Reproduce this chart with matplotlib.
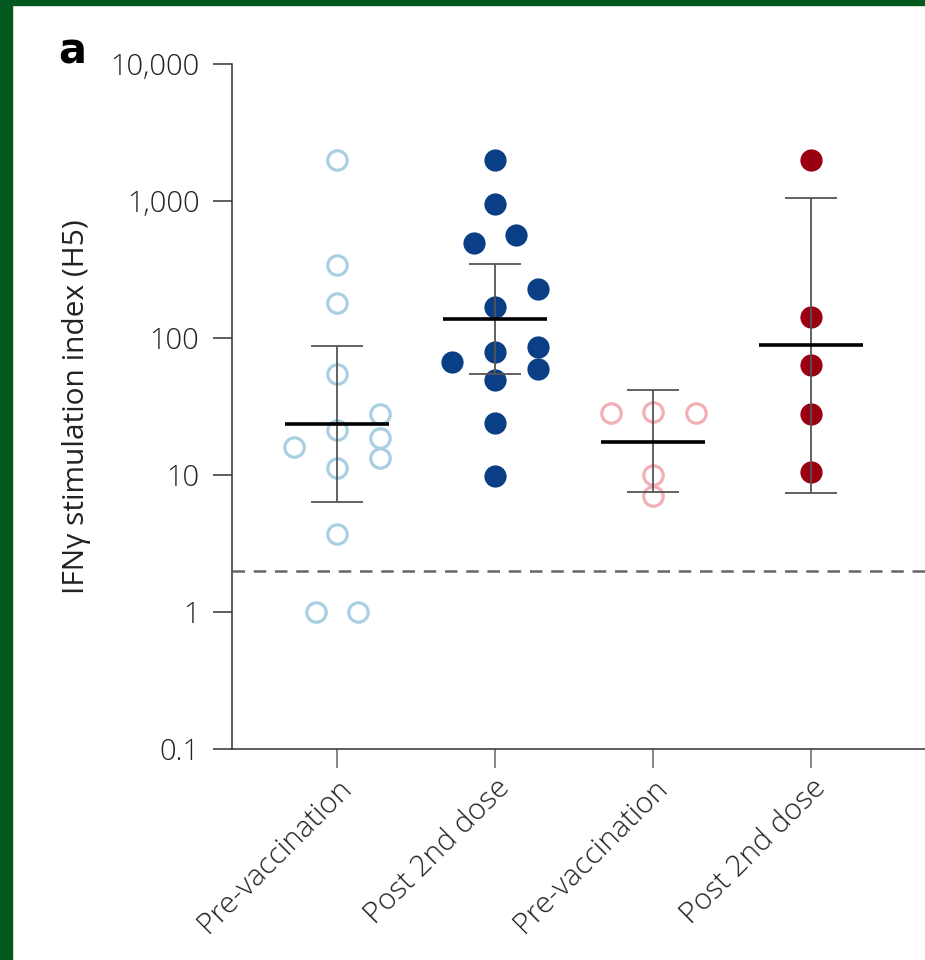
import numpy as np
import matplotlib
matplotlib.use("Agg")
import matplotlib.pyplot as plt
from matplotlib.patches import Rectangle

# Data
groups = ["Pre-vaccination", "Post 2nd dose", "Pre-vaccination", "Post 2nd dose"]

g1_vals = [2000, 341, 180, 55, 21.3, 16, 28, 18.6, 13.3, 11.2, 3.7, 1, 1]
g1_slot = [0, 0, 0, 0, 0, -2, 2, 2, 2, 0, 0, -1, 1]

g2_vals = [2000, 950, 490, 565, 227, 169, 85.5, 79.5, 66.4, 59.7, 49.4, 23.9, 9.8]
g2_slot = [0, 0, -1, 1, 2, 0, 2, 0, -2, 2, 0, 0, 0]

g3_vals = [28.5, 29, 28.5, 10, 7]
g3_slot = [-2, 0, 2, 0, 0]

g4_vals = [2000, 142, 63.5, 28, 10.6]
g4_slot = [0, 0, 0, 0, 0]

means = [23.4, 137, 17.5, 88.4]
err_hi = [87.5, 347, 41.7, 1052]
err_lo = [6.3, 54.6, 7.5, 7.4]

threshold = 2

colors = ["#a9cfe3", "#0a3f86", "#f2b0b6", "#990011"]
filled = [False, True, False, True]

all_vals = [g1_vals, g2_vals, g3_vals, g4_vals]
all_slots = [g1_slot, g2_slot, g3_slot, g4_slot]

plt.rcParams['font.family'] = ['Open Sans', 'DejaVu Sans']
plt.rcParams['font.weight'] = 'light'

fig = plt.figure(figsize=(9.25, 9.6), dpi=100)
ax = fig.add_axes([232 / 925, 1 - 749 / 960, 1 - 232 / 925, (749 - 64) / 960])

slot_w = 0.135
for i in range(4):
    xs = i + np.array(all_slots[i]) * slot_w
    if filled[i]:
        ax.plot(xs, all_vals[i], 'o', ms=16, color=colors[i], mec='none', zorder=2)
    else:
        ax.plot(xs, all_vals[i], 'o', ms=14, mfc='none', mec=colors[i], mew=2.3, zorder=2)

x = np.arange(len(groups))
yerr = [np.array(means) - np.array(err_lo), np.array(err_hi) - np.array(means)]
ax.errorbar(x, means, yerr=yerr, fmt='none', ecolor='#555555', elinewidth=1.3,
            capsize=18.7, capthick=1.3, zorder=3)
ax.hlines(means, x - 0.33, x + 0.33, color='black', lw=2.6, zorder=4)

ax.axhline(threshold, color='#666666', lw=1.8, ls=(0, (5, 3.5)), zorder=1)

ax.set_yscale('log')
ax.set_ylim(0.1, 10000)
ax.set_xlim(-0.665, 3.72)
yt = [0.1, 1, 10, 100, 1000, 10000]
ax.set_yticks(yt)
ax.set_yticklabels(["0.1", "1", "10", "100", "1,000", "10,000"])
ax.yaxis.set_minor_locator(matplotlib.ticker.NullLocator())
ax.set_xticks(x)
ax.set_xticklabels(groups, rotation=45, ha='right', rotation_mode='anchor')

for s in ['top', 'right']:
    ax.spines[s].set_visible(False)
for s in ['left', 'bottom']:
    ax.spines[s].set_color('#333333')
    ax.spines[s].set_linewidth(1.1)
ax.tick_params(axis='y', length=13.5, width=1.1, color='#333333', labelsize=21,
               labelcolor='#222222', pad=10)
ax.tick_params(axis='x', length=13.5, width=1.1, color='#666666', labelsize=21.5,
               labelcolor='#222222', pad=4)

ax.set_ylabel("IFNγ stimulation index (H5)", fontsize=21.5, color='#222222', labelpad=14)

fig.text(58 / 925, 1 - 52 / 960, "a", fontsize=30, fontweight='heavy',
         family='DejaVu Sans', va='center', ha='left')

# green frame
fig.patches.append(Rectangle((0, 0), 12 / 925, 1, transform=fig.transFigure,
                             color='#03581d', zorder=10))
fig.patches.append(Rectangle((0, 1 - 5 / 960), 1, 5 / 960, transform=fig.transFigure,
                             color='#03581d', zorder=10))

fig.savefig("out.png", dpi=100)
